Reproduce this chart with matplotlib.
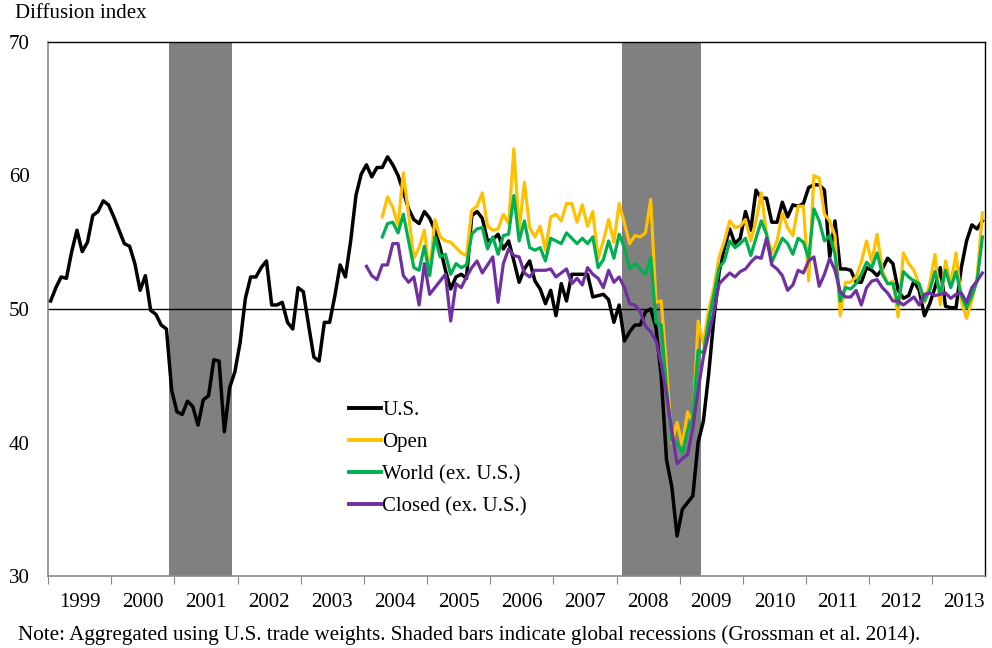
import numpy as np
import pandas as pd
import matplotlib
matplotlib.use("Agg")
import matplotlib.pyplot as plt

# monthly diffusion index, Jan 1999 - Oct 2013
us = [50.6, 51.6, 52.4, 52.3, 54.3, 55.9, 54.3, 55.0, 57.0, 57.3, 58.1, 57.8,
      56.9, 55.9, 54.9, 54.7, 53.4, 51.4, 52.5, 49.9, 49.6, 48.8, 48.5, 43.9,
      42.3, 42.1, 43.1, 42.7, 41.3, 43.2, 43.5, 46.2, 46.1, 40.8, 44.1, 45.3,
      47.5, 50.8, 52.4, 52.4, 53.1, 53.6, 50.3, 50.3, 50.5, 49.0, 48.5, 51.6,
      51.3, 48.8, 46.4, 46.1, 49.0, 49.0, 51.0, 53.3, 52.4, 55.1, 58.5, 60.1,
      60.8, 59.9, 60.6, 60.6, 61.4, 60.8, 60.0, 58.8, 57.5, 56.7, 56.4, 57.3,
      56.8, 55.9, 54.6, 52.9, 51.5, 52.4, 52.6, 52.3, 57.0, 57.3, 56.8, 55.1,
      55.2, 55.6, 54.5, 55.1, 53.6, 52.0, 53.0, 53.6, 52.1, 51.5, 50.4, 51.4,
      49.5, 51.9, 50.6, 52.6, 52.6, 52.6, 52.6, 50.9, 51.0, 51.1, 50.7, 49.0,
      50.3, 47.6, 48.3, 48.8, 48.8, 49.8, 50.0, 48.6, 44.9, 38.7, 36.7, 33.0,
      35.0, 35.5, 36.0, 40.0, 41.6, 45.1, 49.3, 52.8, 54.6, 56.0, 54.9, 55.3,
      57.3, 55.9, 58.9, 58.3, 58.3, 56.5, 56.5, 58.0, 56.9, 57.8, 57.7, 57.9,
      59.1, 59.3, 59.3, 58.9, 53.9, 56.6, 53.0, 53.0, 52.9, 52.0, 52.0, 53.1,
      52.9, 52.5, 53.0, 53.8, 53.4, 51.4, 50.8, 51.0, 52.1, 51.4, 49.5, 50.4,
      51.6, 53.1, 50.2, 50.1, 50.1, 53.1, 55.1, 56.3, 56.0, 56.6]

# Apr 2004 - Oct 2013
open_ = [56.9, 58.4, 57.6, 56.3, 60.2, 57.1, 53.8, 54.6, 55.9,
         52.6, 56.7, 55.4, 55.1, 55.0, 54.6, 54.2, 54.0, 57.4, 57.7, 58.7, 56.2,
         55.9, 56.0, 57.1, 56.4, 62.0, 55.9, 59.5, 56.1, 55.4, 56.2, 54.4, 56.9,
         57.1, 56.6, 57.9, 57.9, 56.5, 57.8, 56.2, 57.3, 53.8, 55.1, 56.7, 55.0,
         57.9, 56.4, 54.9, 55.5, 55.4, 55.7, 58.2, 50.5, 50.6, 45.6, 40.0, 41.5,
         39.8, 42.3, 41.4, 49.1, 47.4, 49.9, 51.6, 53.9, 55.1, 56.6, 56.1, 56.2,
         56.7, 55.1, 56.6, 58.7, 55.6, 54.2, 55.1, 57.2, 56.1, 55.5, 57.7, 57.7,
         52.1, 60.0, 59.8, 57.1, 56.6, 55.5, 49.5, 52.0, 52.0, 52.4, 53.5, 55.1,
         53.5, 55.6, 52.9, 51.9, 52.1, 49.4, 54.2, 53.4, 52.9, 51.8, 50.5, 51.9,
         54.1, 50.3, 53.6, 51.9, 54.2, 50.6, 49.3, 50.6, 52.4, 57.2]

# Apr 2004 - Oct 2013
world = [55.4, 56.4, 56.5, 55.7, 57.1, 55.1, 53.1, 52.9, 54.7,
         52.5, 55.4, 53.9, 54.1, 52.6, 53.4, 53.1, 53.3, 55.6, 56.0, 56.1, 54.5,
         55.4, 54.1, 55.5, 55.6, 58.5, 55.1, 56.6, 54.6, 54.4, 54.6, 53.6, 55.3,
         55.1, 54.9, 55.7, 55.3, 54.9, 55.3, 54.9, 55.4, 53.1, 53.7, 55.1, 53.8,
         55.6, 54.6, 53.0, 53.4, 53.0, 52.6, 53.9, 49.0, 48.8, 44.1, 40.1, 40.0,
         39.2, 40.9, 41.9, 46.9, 46.7, 49.1, 51.1, 53.1, 53.6, 55.1, 54.6, 54.9,
         55.3, 54.0, 55.3, 56.6, 55.6, 53.5, 54.4, 55.3, 54.9, 54.1, 55.3, 55.0,
         53.8, 57.5, 56.6, 55.1, 55.5, 54.1, 50.6, 51.6, 51.5, 51.9, 52.6, 53.5,
         53.1, 54.2, 52.6, 51.9, 51.9, 50.3, 52.8, 52.4, 52.1, 51.9, 50.6, 51.4,
         52.8, 51.1, 52.9, 51.6, 52.8, 51.0, 50.1, 51.0, 52.1, 55.4]

# Jan 2004 - Oct 2013
closed = [53.2, 52.5, 52.2, 53.3, 53.3, 54.9, 54.9, 52.5, 52.0, 52.4, 50.3, 53.4,
          51.1, 51.6, 52.1, 52.6, 49.1, 51.9, 51.6, 52.4, 53.1, 53.6, 52.7, 53.3,
          53.9, 50.5, 53.4, 54.5, 54.0, 53.9, 52.7, 52.4, 52.9, 52.9, 52.9, 53.0,
          52.4, 52.7, 53.0, 51.9, 52.3, 51.8, 53.1, 52.6, 52.3, 51.6, 52.9, 52.0,
          52.4, 51.6, 50.4, 50.3, 49.8, 48.7, 48.3, 47.6, 45.9, 43.6, 40.9, 38.4,
          38.8, 39.1, 41.1, 43.9, 46.4, 48.1, 49.8, 51.9, 52.3, 52.7, 52.4, 52.8,
          53.0, 53.5, 53.9, 53.8, 55.3, 53.3, 53.0, 52.5, 51.4, 51.8, 52.9, 52.7,
          53.6, 53.9, 51.7, 52.6, 53.8, 52.9, 51.3, 50.9, 50.9, 51.4, 50.3, 51.6,
          52.1, 52.2, 51.6, 51.2, 50.6, 50.6, 50.3, 50.6, 50.9, 50.3, 51.1, 51.2,
          51.0, 51.1, 51.2, 50.8, 51.1, 51.2, 50.5, 51.6, 52.1, 52.7]

recessions = [("2000-12", "2001-11"), ("2008-02", "2009-04")]
years = list(range(1999, 2014))

months = pd.period_range("1999-01", periods=len(us), freq="M")


def pos(m):
    return months.get_loc(pd.Period(m, freq="M"))


def series_x(values):
    # every series ends in the last month
    start = len(months) - len(values)
    return np.arange(start, len(months))


plt.rcParams["font.family"] = ["Liberation Serif", "DejaVu Serif"]
plt.rcParams["font.size"] = 15

fig = plt.figure(figsize=(9.92, 6.48), dpi=100)
ax = fig.add_axes([48 / 992, 1 - 576 / 648, 937 / 992, 534 / 648])

for a, b in recessions:
    ax.axvspan(pos(a) - 0.5, pos(b) + 0.5, color="#808080", lw=0, zorder=1)

ax.axhline(50, color="black", lw=1.0, zorder=2)

ax.plot(series_x(us), us, color="black", lw=2.5, label="U.S.", zorder=3)
ax.plot(series_x(open_), open_, color="#FFC000", lw=2.3, label="Open", zorder=3)
ax.plot(series_x(world), world, color="#00B050", lw=2.3, label="World (ex. U.S.)", zorder=3)
ax.plot(series_x(closed), closed, color="#7030A0", lw=2.3, label="Closed (ex. U.S.)", zorder=3)

ax.set_xlim(-0.5, len(months) - 0.5)
ax.set_ylim(30, 70)
ax.set_yticks([30, 40, 50, 60, 70])
ax.tick_params(axis="y", length=0, pad=13)

bounds = [12 * i - 0.5 for i in range(len(years))]
ax.set_xticks(bounds)
ax.set_xticklabels([])
ax.set_xticks([12 * i + 5.5 for i in range(len(years))], minor=True)
ax.set_xticklabels([str(y) for y in years], minor=True)
ax.tick_params(axis="x", which="major", length=6, color="#898989", direction="out")
ax.tick_params(axis="x", which="minor", length=0, pad=12.5)

for s in ["left", "bottom"]:
    ax.spines[s].set_color("#898989")
    ax.spines[s].set_linewidth(1.2)
for s in ["top", "right"]:
    ax.spines[s].set_color("black")
    ax.spines[s].set_linewidth(1.0)

leg = ax.legend(loc="upper left", bbox_to_anchor=(0.321, 0.329), frameon=False,
                handlelength=1.55, handletextpad=0.05, labelspacing=0.6,
                borderpad=0, borderaxespad=0)
for h in leg.get_lines():
    h.set_linewidth(2.8)

fig.text(15 / 992, 1 - 14 / 648, "Diffusion index", ha="left", va="center")
fig.text(18 / 992, 1 - 635 / 648,
         "Note: Aggregated using U.S. trade weights. Shaded bars indicate global "
         "recessions (Grossman et al. 2014).", ha="left", va="center", fontsize=15.2)

fig.savefig("out.png", dpi=100)
